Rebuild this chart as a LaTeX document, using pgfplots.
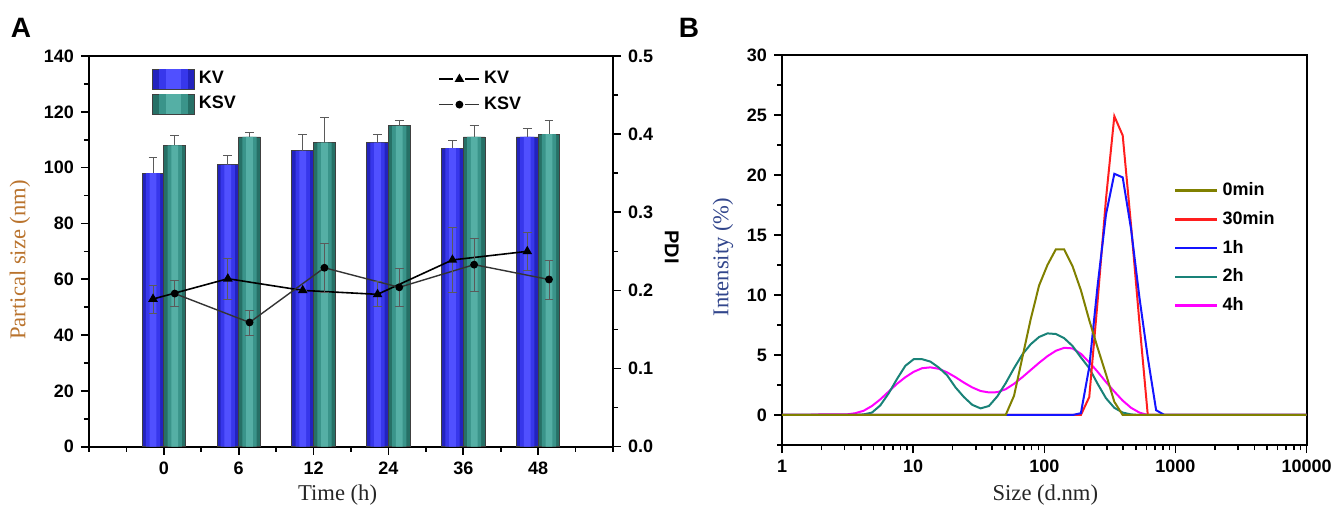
\documentclass[border=0pt]{standalone}
\usepackage{pgfplots}
\pgfplotsset{compat=1.18}
\usepackage{fontspec}
\setmainfont{Liberation Sans}
\newfontfamily\seriffont{Liberation Serif}

\definecolor{kvA}{RGB}{35,35,190}
\definecolor{kvB}{RGB}{55,55,235}
\definecolor{kvC}{RGB}{80,80,255}
\definecolor{ksvA}{RGB}{38,112,102}
\definecolor{ksvB}{RGB}{58,148,138}
\definecolor{ksvC}{RGB}{85,175,165}
\definecolor{labelorange}{RGB}{185,115,45}
\definecolor{labelblue}{RGB}{50,70,140}
\definecolor{cOlive}{RGB}{128,128,0}
\definecolor{cRed}{RGB}{255,30,30}
\definecolor{cBlue}{RGB}{20,20,255}
\definecolor{cTeal}{RGB}{25,130,120}
\definecolor{cMag}{RGB}{255,0,255}
\definecolor{errgray}{RGB}{90,90,90}

\pgfplotstableread{
x xs y e
1 0.855 98 5.5
2 1.855 101 3.5
3 2.855 106 6
4 3.855 109 3
5 4.855 107 2.8
6 5.855 111 3
}\kvbars
\pgfplotstableread{
x xs y e
1 1.145 108 3.5
2 2.145 111 1.8
3 3.145 109 9
4 4.145 115 2
5 5.145 111 4
6 6.145 112 5
}\ksvbars
\pgfplotstableread{
x y e
0.855 0.189 0.018
1.855 0.215 0.026
2.855 0.200 0.0
3.855 0.195 0.016
4.855 0.239 0.042
5.855 0.250 0.0245
}\kvpdi
\pgfplotstableread{
x y e
1.145 0.196 0.017
2.145 0.159 0.016
3.145 0.229 0.031
4.145 0.204 0.0245
5.145 0.233 0.034
6.145 0.214 0.025
}\ksvpdi

\pgfplotsset{
  mystyle/.style={
    scale only axis,
    axis line style={line width=0.9pt},
    every tick/.style={line width=0.8pt, black},
    tick align=outside,
    major tick length=4pt, minor tick length=2.5pt,
    tick label style={font=\fontsize{9}{10}\selectfont\bfseries},
    /pgf/number format/assume math mode=true,
    label style={font=\fontsize{11.3}{13}\selectfont\seriffont},
  },
  errstyle/.style={
    draw=none, no marks, forget plot,
    error bars/y explicit,
    error bars/error bar style={draw=errgray, line width=0.4pt},
    error bars/error mark options={rotate=90, mark size=2.2pt, draw=errgray},
  },
}

\begin{document}
\begin{tikzpicture}
\useasboundingbox (0,0) rectangle (667.5pt,252pt);

% ---------- Panel A: bars ----------
\begin{axis}[mystyle,
  at={(44.5pt,28.65pt)}, anchor=south west, width=262pt, height=195.35pt,
  xmin=0, xmax=7, ymin=0, ymax=140,
  xtick={1,2,3,4,5,6}, xticklabels={0,6,12,24,36,48},
  minor xtick={0,0.5,1.5,2.5,3.5,4.5,5.5,6.5,7},
  ytick={0,20,40,60,80,100,120,140}, minor ytick={10,30,50,70,90,110,130},
  xtick pos=left, ytick pos=left,
  ylabel={Partical size (nm)},
  ylabel style={at={(axis description cs:-0.1317,0.478)}, anchor=center, text=labelorange},
  xlabel={Time (h)},
  xlabel style={at={(axis description cs:0.4744,-0.1236)}, anchor=center, text=black!85},
  legend style={at={(axis description cs:0.108,0.982)}, anchor=north west, draw=none, fill=none,
    font=\fontsize{9}{10}\selectfont\bfseries, row sep=0.8pt, cells={anchor=west}},
]
% KV bars (layered for a cylinder look)
\addplot[ybar, bar width=0.29, bar shift=-0.145, draw=black!75, line width=0.4pt, fill=kvA,
  legend image code/.code={
    \draw[draw=black!75, line width=0.4pt, fill=kvA] (0pt,-5pt) rectangle (21pt,5pt);
    \fill[kvB] (3.5pt,-4.8pt) rectangle (17.5pt,4.8pt);
    \fill[kvC] (7pt,-4.8pt) rectangle (14pt,4.8pt);}]
  table[x=x, y=y]{\kvbars};
\addlegendentry{KV}
\addplot[ybar, bar width=0.19, bar shift=-0.145, draw=none, fill=kvB, forget plot]
  table[x=x, y=y]{\kvbars};
\addplot[ybar, bar width=0.09, bar shift=-0.145, draw=none, fill=kvC, forget plot]
  table[x=x, y=y]{\kvbars};
% KSV bars
\addplot[ybar, bar width=0.29, bar shift=0.145, draw=black!75, line width=0.4pt, fill=ksvA,
  legend image code/.code={
    \draw[draw=black!75, line width=0.4pt, fill=ksvA] (0pt,-5pt) rectangle (21pt,5pt);
    \fill[ksvB] (3.5pt,-4.8pt) rectangle (17.5pt,4.8pt);
    \fill[ksvC] (7pt,-4.8pt) rectangle (14pt,4.8pt);}]
  table[x=x, y=y]{\ksvbars};
\addlegendentry{KSV}
\addplot[ybar, bar width=0.19, bar shift=0.145, draw=none, fill=ksvB, forget plot]
  table[x=x, y=y]{\ksvbars};
\addplot[ybar, bar width=0.09, bar shift=0.145, draw=none, fill=ksvC, forget plot]
  table[x=x, y=y]{\ksvbars};
% error bars (upper only)
\addplot[errstyle, error bars/y dir=plus] table[x=xs, y=y, y error=e]{\kvbars};
\addplot[errstyle, error bars/y dir=plus] table[x=xs, y=y, y error=e]{\ksvbars};
\end{axis}

% ---------- Panel A: PDI ----------
\begin{axis}[mystyle,
  at={(44.5pt,28.65pt)}, anchor=south west, width=262pt, height=195.35pt,
  xmin=0, xmax=7, ymin=0, ymax=0.5,
  axis y line*=right, axis x line=none,
  ytick={0,0.1,0.2,0.3,0.4,0.5}, minor ytick={0.05,0.15,0.25,0.35,0.45},
  yticklabel style={/pgf/number format/.cd, fixed, fixed zerofill, precision=1},
  ylabel={PDI},
  ylabel style={at={(axis description cs:1.112,0.511)}, anchor=center, rotate=180,
    font=\normalfont\bfseries\fontsize{10}{12}\selectfont},
  legend style={at={(axis description cs:0.655,0.982)}, anchor=north west, draw=none, fill=none,
    font=\fontsize{9}{10}\selectfont\bfseries, row sep=1pt, cells={anchor=west}},
  legend image code/.code={
    \draw[#1, mark=none] (0pt,0pt) -- (7pt,0pt);
    \draw[#1, mark=none] (13pt,0pt) -- (20pt,0pt);
    \draw[mark repeat=2, mark phase=2, #1, draw=none] plot coordinates {(0pt,0pt) (10pt,0pt) (20pt,0pt)};},
]
\addplot[black, line width=0.8pt, mark=triangle*, mark size=2pt, mark options={solid, fill=black, draw=black}]
  table[x=x, y=y]{\kvpdi};
\addlegendentry{KV}
\addplot[black!80, line width=0.7pt, mark=*, mark size=1.6pt, mark options={solid, fill=black, draw=black}]
  table[x=x, y=y]{\ksvpdi};
\addlegendentry{KSV}
\addplot[errstyle, error bars/y dir=both] table[x=x, y=y, y error=e]{\kvpdi};
\addplot[errstyle, error bars/y dir=both] table[x=x, y=y, y error=e]{\ksvpdi};
\end{axis}

% ---------- Panel B ----------
\begin{axis}[mystyle,
  at={(391pt,29.5pt)}, anchor=south west, width=262.3pt, height=195pt,
  xmode=log, log basis x=10, xmin=1, xmax=10000, ymin=-2.5, ymax=30,
  xtick={1,10,100,1000,10000}, xticklabels={1,10,100,1000,10000},
  minor xtick={2,3,4,5,6,7,8,9,20,30,40,50,60,70,80,90,200,300,400,500,600,700,800,900,2000,3000,4000,5000,6000,7000,8000,9000},
  ytick={0,5,10,15,20,25,30}, minor ytick={-2.5,2.5,7.5,12.5,17.5,22.5,27.5},
  xtick pos=left, ytick pos=left,
  ylabel={Intensity (\%)},
  ylabel style={at={(axis description cs:-0.1125,0.482)}, anchor=center, text=labelblue},
  xlabel={Size (d.nm)},
  xlabel style={at={(axis description cs:0.502,-0.128)}, anchor=center, text=black!85},
  legend style={at={(axis description cs:0.735,0.695)}, anchor=north west, draw=none, fill=none,
    font=\fontsize{9}{10}\selectfont\bfseries, row sep=2.4pt, cells={anchor=west}},
  legend image code/.code={\draw[#1] (0pt,0pt) -- (21pt,0pt);},
]
\addlegendimage{cOlive, line width=1.3pt}\addlegendentry{0min}
\addlegendimage{cRed, line width=1.3pt}\addlegendentry{30min}
\addlegendimage{cBlue, line width=1.3pt}\addlegendentry{1h}
\addlegendimage{cTeal, line width=1.3pt}\addlegendentry{2h}
\addlegendimage{cMag, line width=1.3pt}\addlegendentry{4h}

% 4h
\addplot[cMag, line width=1pt, forget plot] coordinates {
(1,0) (1.499,0) (1.736,0.03) (2.010,0.05) (2.328,0.05) (2.696,0.05) (3.122,0.05) (3.615,0.15)
(4.187,0.35) (4.849,0.75) (5.615,1.3) (6.503,1.95) (7.531,2.6) (8.721,3.15) (10.10,3.6)
(11.70,3.9) (13.54,3.97) (15.69,3.85) (18.17,3.55) (21.04,3.15) (24.36,2.7) (28.21,2.3)
(32.67,2.0) (37.84,1.88) (43.82,1.9) (50.75,2.15) (58.77,2.6) (68.06,3.15) (78.82,3.75)
(91.28,4.35) (105.7,4.9) (122.4,5.35) (141.8,5.6) (164.2,5.55) (190.1,5.1) (220.2,4.4)
(255.0,3.6) (295.3,2.75) (342.0,1.95) (396.1,1.2) (458.7,0.6) (531.2,0.2) (615.1,0) (10000,0)};
% 2h
\addplot[cTeal, line width=1pt, forget plot] coordinates {
(1,0) (3.615,0) (4.187,0.05) (4.849,0.2) (5.615,0.8) (6.503,1.8) (7.531,3.0) (8.721,4.1)
(10.10,4.65) (11.70,4.65) (13.54,4.45) (15.69,3.95) (18.17,3.3) (21.04,2.3) (24.36,1.5)
(28.21,0.85) (32.67,0.55) (37.84,0.75) (43.82,1.55) (50.75,2.65) (58.77,3.9) (68.06,5.05)
(78.82,5.9) (91.28,6.5) (105.7,6.8) (122.4,6.75) (141.8,6.4) (164.2,5.75) (190.1,4.8)
(220.2,3.9) (255.0,2.6) (295.3,1.4) (342.0,0.6) (396.1,0.2) (458.7,0.05) (531.2,0) (10000,0)};
% 30min
\addplot[cRed, line width=1pt, forget plot] coordinates {
(1,0) (190.1,0) (220.2,1.5) (255.0,9.5) (295.3,18.0) (342.0,24.9) (396.1,23.3)
(458.7,15.8) (531.2,7.7) (615.1,0) (10000,0)};
% 1h
\addplot[cBlue, line width=1pt, forget plot] coordinates {
(1,0) (164.2,0) (190.1,0.15) (220.2,4.0) (255.0,10.8) (295.3,16.7) (342.0,20.1) (396.1,19.8)
(458.7,15.5) (531.2,9.8) (615.1,4.8) (712.4,0.4) (825.0,0) (10000,0)};
% 0min
\addplot[cOlive, line width=1pt, forget plot] coordinates {
(1,0) (43.82,0) (50.75,0) (58.77,1.6) (68.06,4.8) (78.82,8.0) (91.28,10.8) (105.7,12.5)
(122.4,13.8) (141.8,13.8) (164.2,12.4) (190.1,10.4) (220.2,7.9) (255.0,5.6) (295.3,3.4)
(342.0,1.1) (396.1,0) (10000,0)};
\end{axis}

\node[font=\fontsize{14}{16}\selectfont\bfseries] at (10.5pt,238pt) {A};
\node[font=\fontsize{14}{16}\selectfont\bfseries] at (344.5pt,238pt) {B};
\end{tikzpicture}
\end{document}
